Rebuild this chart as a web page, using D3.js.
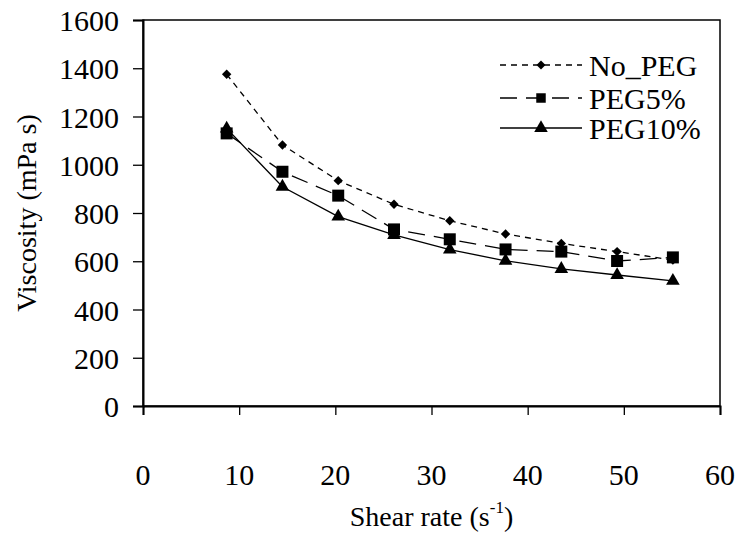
<!DOCTYPE html>
<html>
<head>
<meta charset="utf-8">
<script src="https://cdn.jsdelivr.net/npm/d3@7"></script>
<style>
  body { margin: 0; background: #fff; }
  #chart { position: relative; width: 738px; height: 533px; }
  #chart svg { position: absolute; left: 0; top: 0; }
  .lab {
    position: absolute;
    font-family: "Liberation Serif", "Times New Roman", serif;
    color: #000;
    white-space: nowrap;
    line-height: 1;
  }
  .lab sup { font-size: 17px; vertical-align: 0; position: relative; top: -13px; }
</style>
</head>
<body>
<div id="chart"></div>
<script>
// Data
const shearRate = [8.7, 14.5, 20.3, 26.1, 31.9, 37.7, 43.5, 49.3, 55.1];
const noPeg = [1375, 1082, 934, 836, 768, 713, 674, 640, 605];
const peg5 = [1130, 971, 872, 732, 691, 649, 640, 601, 616];
const peg10 = [1150, 909, 785, 709, 648, 602, 568, 543, 519];
const seriesNames = ["No_PEG", "PEG5%", "PEG10%"];
const xTicks = [0, 10, 20, 30, 40, 50, 60];
const yTicks = [0, 200, 400, 600, 800, 1000, 1200, 1400, 1600];

const width = 738;
const height = 533;
const margin = { top: 20, right: 18, bottom: 127, left: 143 };

const chart = d3.select("#chart");

const svg = chart
  .append("svg")
  .attr("width", width)
  .attr("height", height);

const x = d3.scaleLinear()
  .domain([0, 60])
  .range([margin.left, width - margin.right]);

const y = d3.scaleLinear()
  .domain([0, 1600])
  .range([height - margin.bottom, margin.top]);

// plot area frame
svg.append("rect")
  .attr("x", x(0))
  .attr("y", y(1600))
  .attr("width", x(60) - x(0))
  .attr("height", y(0) - y(1600))
  .attr("fill", "none")
  .attr("stroke", "#000")
  .attr("stroke-width", 1.5);

// axes: ticks from d3, labels as html text on top
const xAxis = svg.append("g")
  .attr("transform", `translate(0,${y(0)})`)
  .call(d3.axisBottom(x).tickValues(xTicks).tickFormat("").tickSize(9));

const yAxis = svg.append("g")
  .attr("transform", `translate(${x(0)},0)`)
  .call(d3.axisLeft(y).tickValues(yTicks).tickFormat("").tickSize(10));

[xAxis, yAxis].forEach((g) => {
  g.select(".domain").attr("stroke", "#000").attr("stroke-width", 2);
  g.selectAll(".tick line").attr("stroke", "#000").attr("stroke-width", 1.3);
});

chart.selectAll(".xlab")
  .data(xTicks)
  .join("div")
  .attr("class", "lab xlab")
  .style("left", (d) => x(d) + "px")
  .style("top", y(0) + 69 + "px")
  .style("font-size", "30px")
  .style("transform", "translate(-50%,-50%)")
  .text((d) => d);

chart.selectAll(".ylab")
  .data(yTicks)
  .join("div")
  .attr("class", "lab ylab")
  .style("right", width - (x(0) - 24) + "px")
  .style("top", (d) => y(d) + 1 + "px")
  .style("font-size", "30px")
  .style("transform", "translateY(-50%)")
  .text((d) => d);

// axis titles
chart.append("div")
  .attr("class", "lab")
  .style("left", (x(0) + x(60)) / 2 + "px")
  .style("top", "517px")
  .style("font-size", "28px")
  .style("transform", "translate(-50%,-50%)")
  .html("Shear rate (s<sup>-1</sup>)");

chart.append("div")
  .attr("class", "lab")
  .style("left", "27px")
  .style("top", (y(0) + y(1600)) / 2 + "px")
  .style("font-size", "28px")
  .style("transform", "translate(-50%,-50%) rotate(-90deg)")
  .text("Viscosity (mPa s)");

// series
const series = [
  { name: seriesNames[0], values: noPeg, dash: "6,5", shape: "diamond", size: 44 },
  { name: seriesNames[1], values: peg5, dash: "17,9", shape: "square", size: 144 },
  { name: seriesNames[2], values: peg10, dash: null, shape: "triangle", size: 80 },
];

function markerPath(s, size) {
  if (s === "triangle") return d3.symbol(d3.symbolTriangle, size)();
  return d3.symbol(d3.symbolSquare, size)(); // diamond = rotated square
}

const line = d3.line()
  .x((d) => x(d[0]))
  .y((d) => y(d[1]));

series.forEach((s) => {
  const pts = shearRate.map((r, i) => [r, s.values[i]]);
  svg.append("path")
    .datum(pts)
    .attr("fill", "none")
    .attr("stroke", "#000")
    .attr("stroke-width", 1.3)
    .attr("stroke-dasharray", s.dash)
    .attr("d", line);

  svg.append("g")
    .selectAll("path")
    .data(pts)
    .join("path")
    .attr("d", markerPath(s.shape, s.size))
    .attr("transform", (d) =>
      `translate(${x(d[0])},${y(d[1])})` + (s.shape === "diamond" ? " rotate(45)" : ""))
    .attr("fill", "#000");
});

// legend
const legendRows = [65, 98, 128];
const legendMarkerSize = [40, 90, 80];
series.forEach((s, i) => {
  const g = svg.append("g").attr("transform", `translate(500,${legendRows[i]})`);
  g.append("line")
    .attr("x1", 0).attr("x2", 82)
    .attr("stroke", "#000")
    .attr("stroke-width", 1.3)
    .attr("stroke-dasharray", s.dash);
  g.append("path")
    .attr("d", markerPath(s.shape, legendMarkerSize[i]))
    .attr("transform", `translate(41,0)` + (s.shape === "diamond" ? " rotate(45)" : ""))
    .attr("fill", "#000");
  chart.append("div")
    .attr("class", "lab")
    .style("left", "589px")
    .style("top", legendRows[i] + 1 + "px")
    .style("font-size", "30px")
    .style("transform", "translateY(-50%)")
    .text(s.name);
});
</script>
</body>
</html>
